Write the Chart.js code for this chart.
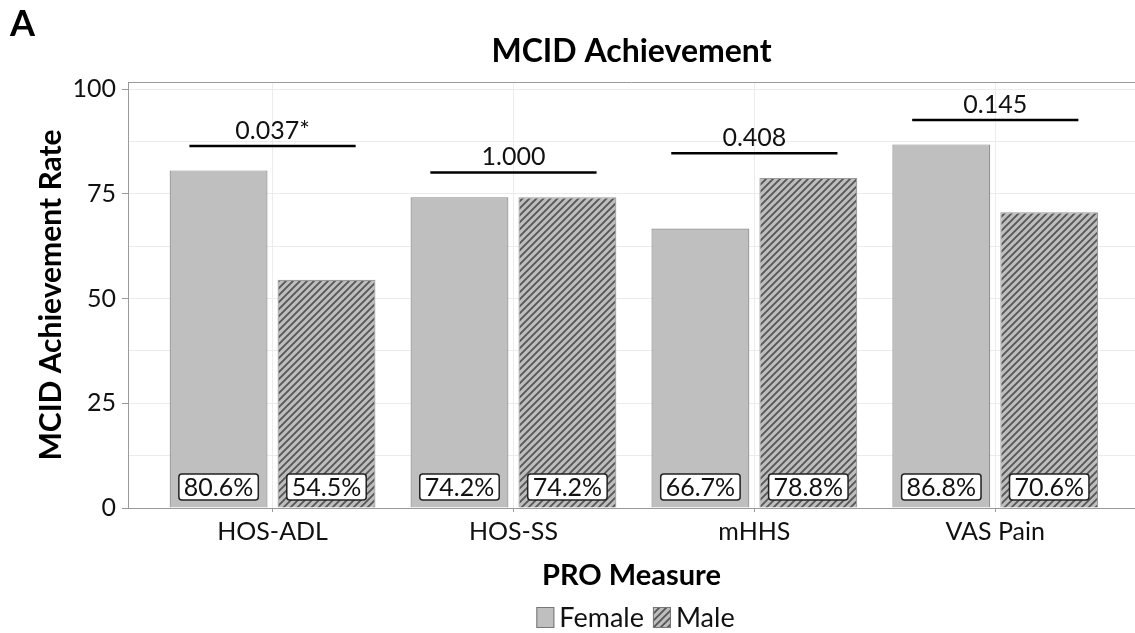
<!DOCTYPE html>
<html>
<head>
<meta charset="utf-8">
<script src="https://cdn.jsdelivr.net/npm/chart.js@4.4.1/dist/chart.umd.min.js"></script>
<style>
  html, body { margin: 0; padding: 0; background: #fff; overflow: hidden; }
  #wrap { width: 1135px; height: 633px; }
</style>
</head>
<body>
<div id="wrap"><canvas id="mcid"></canvas></div>
<script>
// --- Data ---
const measures = ['HOS-ADL', 'HOS-SS', 'mHHS', 'VAS Pain'];
const femaleRate = [80.6, 74.2, 66.7, 86.8];
const maleRate = [54.5, 74.2, 78.8, 70.6];
const pValues = ['0.037*', '1.000', '0.408', '0.145'];
const bracketLevel = [86.4, 80.1, 84.7, 92.6];
const yTicks = [0, 25, 50, 75, 100];

const FONT = 'Lato, "Open Sans", sans-serif';

// diagonal hatch for the Male bars
function makeHatch() {
    const c = document.createElement('canvas');
    c.width = 7; c.height = 7;
    const g = c.getContext('2d');
    g.fillStyle = '#bdbdbd';
    g.fillRect(0, 0, 7, 7);
    g.strokeStyle = '#555';
    g.lineWidth = 1.8;
    g.beginPath();
    g.moveTo(-1, 8); g.lineTo(8, -1);
    g.moveTo(-4, 4); g.lineTo(4, -4);
    g.moveTo(3, 11); g.lineTo(11, 3);
    g.stroke();
    return g.createPattern(c, 'repeat');
}
const hatch = makeHatch();

// --- Annotations: panel letter, title, p-value brackets, value boxes, legend ---
const annotate = {
    id: 'annotate',
    afterDatasetsDraw(chart) {
        const ctx = chart.ctx;
        const area = chart.chartArea;
        const x = chart.scales.x, y = chart.scales.y;
        const midX = (area.left + area.right) / 2;
        ctx.save();

        // top frame line
        ctx.strokeStyle = '#9a9a9a';
        ctx.lineWidth = 1;
        ctx.beginPath();
        ctx.moveTo(area.left, area.top + 0.5);
        ctx.lineTo(area.right, area.top + 0.5);
        ctx.stroke();

        // value boxes at the bottom of each bar
        ctx.font = '25px ' + FONT;
        ctx.textAlign = 'center';
        ctx.textBaseline = 'middle';
        chart.data.datasets.forEach((ds, di) => {
            chart.getDatasetMeta(di).data.forEach((bar, i) => {
                const label = ds.data[i].y.toFixed(1) + '%';
                const w = ctx.measureText(label).width + 10;
                const h = 26;
                const bx = bar.x - w / 2;
                const by = y.getPixelForValue(0) - 8 - h;
                ctx.fillStyle = '#fff';
                ctx.strokeStyle = '#222';
                ctx.lineWidth = 1.5;
                ctx.beginPath();
                ctx.roundRect(bx, by, w, h, 3);
                ctx.fill();
                ctx.stroke();
                ctx.fillStyle = '#111';
                ctx.fillText(label, bar.x, by + h / 2 + 1);
            });
        });

        // significance brackets
        ctx.strokeStyle = '#000';
        ctx.lineWidth = 2.5;
        ctx.textBaseline = 'alphabetic';
        pValues.forEach((p, i) => {
            const x0 = x.getPixelForValue(i - 0.345);
            const x1 = x.getPixelForValue(i + 0.345);
            const ly = y.getPixelForValue(bracketLevel[i]);
            ctx.beginPath();
            ctx.moveTo(x0, ly);
            ctx.lineTo(x1, ly);
            ctx.stroke();
            ctx.fillStyle = '#111';
            ctx.fillText(p, x.getPixelForValue(i), ly - 7);
        });

        // chart title, centred on the plot
        ctx.fillStyle = '#000';
        ctx.font = 'bold 32px ' + FONT;
        ctx.fillText('MCID Achievement', midX, 62);

        // panel letter
        ctx.textAlign = 'left';
        ctx.font = 'bold 36px ' + FONT;
        ctx.fillText('A', 10, 36);

        // legend, centred under the plot
        ctx.font = '27px ' + FONT;
        const items = chart.data.datasets.map(ds => ({
            label: ds.label, fill: ds.backgroundColor
        }));
        const boxW = 18, boxH = 21, gap = 5, sep = 9;
        const total = items.reduce((s, it) => s + boxW + gap + ctx.measureText(it.label).width, 0) + sep;
        let lx = midX - total / 2 + 4;
        items.forEach(it => {
            ctx.fillStyle = it.fill;
            ctx.fillRect(lx, 607, boxW, boxH);
            ctx.strokeStyle = '#777';
            ctx.lineWidth = 1;
            ctx.strokeRect(lx + 0.5, 607.5, boxW - 1, boxH - 1);
            ctx.fillStyle = '#111';
            ctx.fillText(it.label, lx + boxW + gap, 627);
            lx += boxW + gap + ctx.measureText(it.label).width + sep;
        });
        ctx.restore();
    }
};

new Chart(document.getElementById('mcid'), {
    type: 'bar',
    data: {
        datasets: [
            {
                label: 'Female',
                data: femaleRate.map((v, i) => ({ x: i, y: v })),
                backgroundColor: '#bfbfbf',
                borderColor: '#8c8c8c',
                borderWidth: 1.2
            },
            {
                label: 'Male',
                data: maleRate.map((v, i) => ({ x: i, y: v })),
                backgroundColor: hatch,
                borderColor: '#9a9a9a',
                borderWidth: 1.2
            }
        ]
    },
    options: {
        responsive: true,
        maintainAspectRatio: false,
        animation: false,
        categoryPercentage: 0.896,
        barPercentage: 0.907,
        layout: { padding: { top: 82, left: 0, right: 0, bottom: 0 } },
        plugins: {
            title: { display: false },
            tooltip: { enabled: false },
            legend: { display: false }
        },
        scales: {
            x: {
                type: 'linear',
                offset: false,
                min: -0.6,
                max: 3.58,
                afterBuildTicks: s => { s.ticks = measures.map((m, i) => ({ value: i })); },
                afterFit: s => { s.height = 633 - 508; },
                ticks: {
                    color: '#111',
                    font: { family: FONT, size: 25 },
                    padding: 5,
                    callback: v => measures[v]
                },
                grid: { offset: false, color: '#ececec', tickColor: '#9a9a9a', tickLength: 4 },
                border: { color: '#9a9a9a' },
                title: {
                    display: true,
                    text: 'PRO Measure',
                    color: '#000',
                    font: { family: FONT, size: 29, weight: 'bold' },
                    padding: { top: 6, bottom: 40 }
                }
            },
            y: {
                min: 0,
                max: 101.7,
                afterBuildTicks: s => {
                    const t = [];
                    for (let v = 0; v <= 100; v += 12.5) t.push({ value: v });
                    s.ticks = t;
                },
                afterFit: s => { s.width = 128; },
                ticks: {
                    color: '#111',
                    font: { family: FONT, size: 25 },
                    padding: 6,
                    callback: v => yTicks.includes(v) ? String(v) : ''
                },
                grid: {
                    color: '#ececec',
                    tickLength: 6,
                    tickColor: c => yTicks.includes(c.tick.value) ? '#9a9a9a' : 'rgba(0,0,0,0)'
                },
                border: { color: '#9a9a9a' },
                title: {
                    display: true,
                    text: 'MCID Achievement Rate',
                    color: '#000',
                    font: { family: FONT, size: 30, weight: 'bold' },
                    padding: { top: 33, bottom: 33 }
                }
            }
        }
    },
    plugins: [annotate]
});
</script>
</body>
</html>
